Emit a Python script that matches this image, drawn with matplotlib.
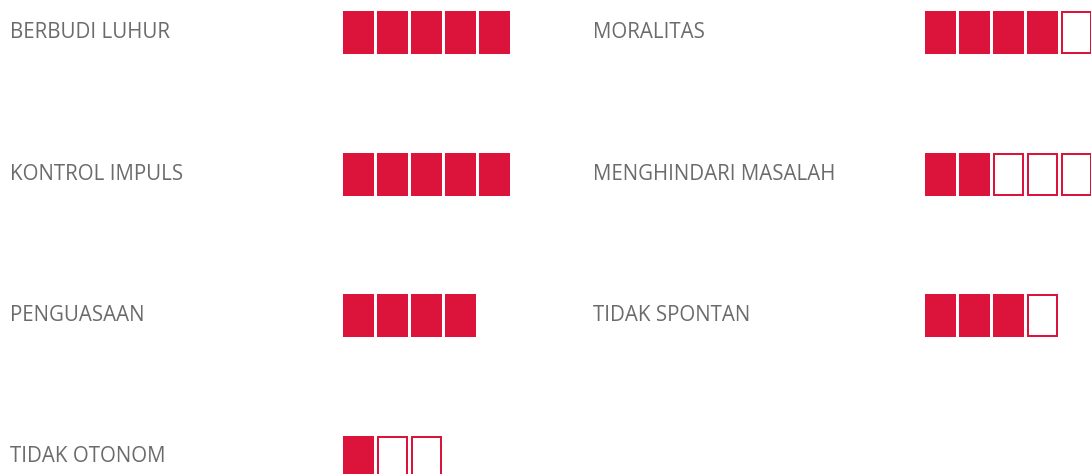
import matplotlib
matplotlib.use("Agg")
import matplotlib.pyplot as plt
from matplotlib.patches import Rectangle

# Trait scores: filled boxes out of a per-trait scale
left_labels = ["BERBUDI LUHUR", "KONTROL IMPULS", "PENGUASAAN", "TIDAK OTONOM"]
left_scores = [5, 5, 4, 1]
left_max = [5, 5, 4, 3]

right_labels = ["MORALITAS", "MENGHINDARI MASALAH", "TIDAK SPONTAN"]
right_scores = [4, 2, 3]
right_max = [5, 5, 4]

RED = "#DC143C"
GREY = "#6b6b6b"

W, H = 1091, 474
fig = plt.figure(figsize=(W / 100, H / 100), dpi=100)
ax = fig.add_axes([0, 0, 1, 1])
ax.set_xlim(0, W)
ax.set_ylim(H, 0)
ax.axis("off")

row_top0, row_pitch = 11, 141.5
box_w, box_h, box_pitch = 31, 43, 34
lw_px = 2
lw_pt = lw_px * 72 / 100


def draw_column(labels, scores, maxima, text_x, box_x):
    for i, (lab, s, m) in enumerate(zip(labels, scores, maxima)):
        top = row_top0 + i * row_pitch
        ax.text(text_x, top + box_h / 2, lab, fontsize=14.8, color=GREY,
                family="Open Sans", va="center", ha="left")
        for j in range(m):
            x = box_x + j * box_pitch
            if j < s:
                ax.add_patch(Rectangle((x, top), box_w, box_h, facecolor=RED,
                                       edgecolor="none"))
            else:
                ax.add_patch(Rectangle((x + lw_px / 2, top + lw_px / 2),
                                       box_w - lw_px, box_h - lw_px,
                                       facecolor="white", edgecolor=RED,
                                       linewidth=lw_pt))


draw_column(left_labels, left_scores, left_max, 10, 343)
draw_column(right_labels, right_scores, right_max, 593, 925)

fig.savefig("out.png", dpi=100, facecolor="white")
